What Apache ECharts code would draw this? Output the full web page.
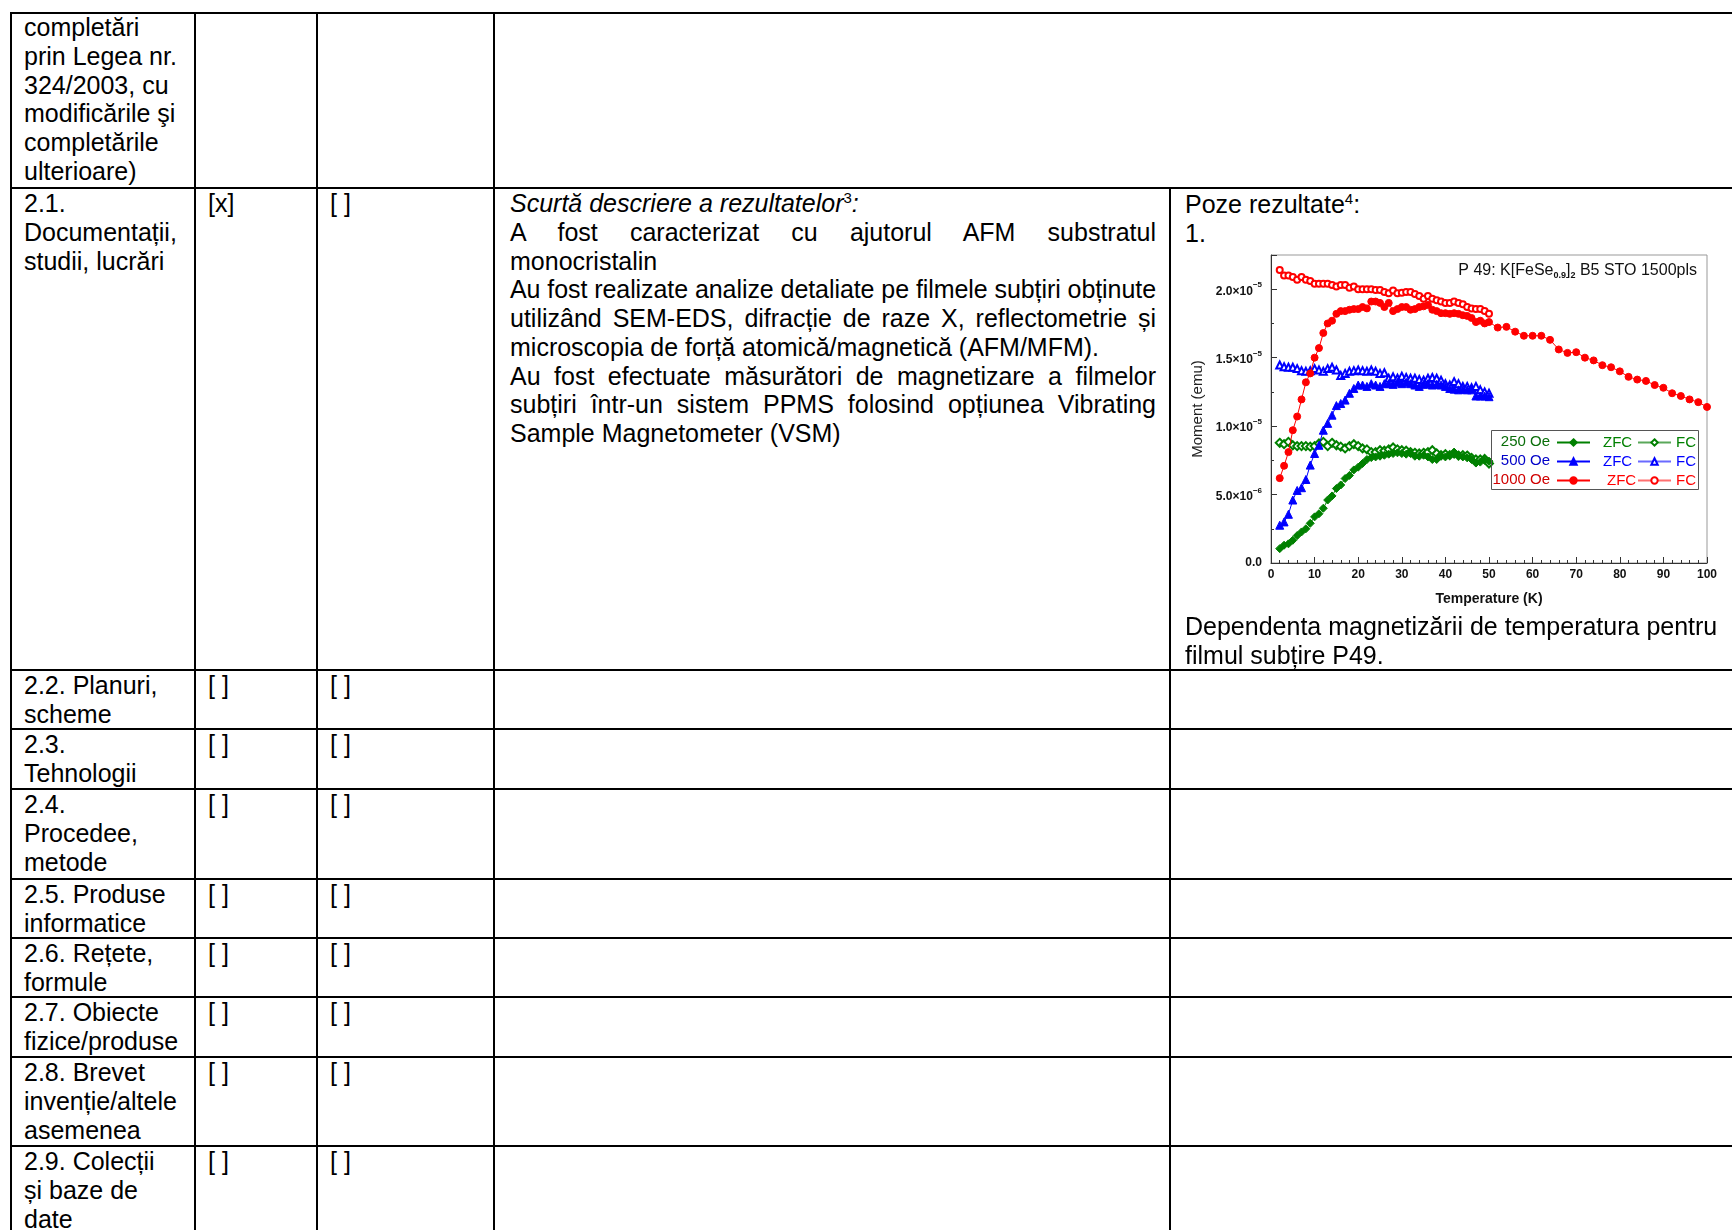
<!DOCTYPE html>
<html>
<head>
<meta charset="utf-8">
<script src="https://cdn.jsdelivr.net/npm/echarts@6/dist/echarts.min.js"></script>
<style>
html,body{margin:0;padding:0}
body{width:1732px;height:1230px;overflow:hidden;background:#fff;font-family:'Liberation Sans',Arial,sans-serif;font-size:25px;line-height:28.75px;color:#000;position:relative}
.h{position:absolute;left:10px;width:1722px;height:2px;background:#000}
.v{position:absolute;width:2px;background:#000}
.t{position:absolute;white-space:nowrap}
.j{text-align:justify;text-align-last:justify}
sup{font-size:15px;line-height:0;vertical-align:9px}
#chart{position:absolute;left:1180px;top:240px;width:552px;height:380px}
</style>
</head>
<body>
<div id="lines"></div>

<!-- column 1 -->
<div class="t" style="left:24px;top:13px">completări<br>prin Legea nr.<br>324/2003, cu<br>modificările şi<br>completările<br>ulterioare)</div>
<div class="t" style="left:24px;top:189px">2.1.<br>Documentații,<br>studii, lucrări</div>
<div class="t" style="left:24px;top:671px">2.2. Planuri,<br>scheme</div>
<div class="t" style="left:24px;top:730px">2.3.<br>Tehnologii</div>
<div class="t" style="left:24px;top:790px">2.4.<br>Procedee,<br>metode</div>
<div class="t" style="left:24px;top:880px">2.5. Produse<br>informatice</div>
<div class="t" style="left:24px;top:939px">2.6. Rețete,<br>formule</div>
<div class="t" style="left:24px;top:998px">2.7. Obiecte<br>fizice/produse</div>
<div class="t" style="left:24px;top:1058px">2.8. Brevet<br>invenție/altele<br>asemenea</div>
<div class="t" style="left:24px;top:1147px">2.9. Colecții<br>și baze de<br>date</div>

<!-- column 2 -->
<div class="t" style="left:208px;top:189px">[x]</div>
<div class="t" style="left:208px;top:671px">[ ]</div>
<div class="t" style="left:208px;top:730px">[ ]</div>
<div class="t" style="left:208px;top:790px">[ ]</div>
<div class="t" style="left:208px;top:880px">[ ]</div>
<div class="t" style="left:208px;top:939px">[ ]</div>
<div class="t" style="left:208px;top:998px">[ ]</div>
<div class="t" style="left:208px;top:1058px">[ ]</div>
<div class="t" style="left:208px;top:1147px">[ ]</div>

<!-- column 3 -->
<div class="t" style="left:330px;top:189px">[ ]</div>
<div class="t" style="left:330px;top:671px">[ ]</div>
<div class="t" style="left:330px;top:730px">[ ]</div>
<div class="t" style="left:330px;top:790px">[ ]</div>
<div class="t" style="left:330px;top:880px">[ ]</div>
<div class="t" style="left:330px;top:939px">[ ]</div>
<div class="t" style="left:330px;top:998px">[ ]</div>
<div class="t" style="left:330px;top:1058px">[ ]</div>
<div class="t" style="left:330px;top:1147px">[ ]</div>

<!-- column 4 -->
<div class="t" style="left:510px;top:189px;width:646px">
<div><i>Scurtă descriere a rezultatelor</i><sup>3</sup><i>:</i></div>
<div class="j">A fost caracterizat cu ajutorul AFM substratul</div>
<div>monocristalin</div>
<div class="j" style="letter-spacing:-0.07px">Au fost realizate analize detaliate pe filmele subțiri obținute</div>
<div class="j">utilizând SEM-EDS, difracție de raze X, reflectometrie și</div>
<div>microscopia de forță atomică/magnetică (AFM/MFM).</div>
<div class="j">Au fost efectuate măsurători de magnetizare a filmelor</div>
<div class="j">subțiri într-un sistem PPMS folosind opțiunea Vibrating</div>
<div>Sample Magnetometer (VSM)</div>
</div>

<!-- column 5 -->
<div class="t" style="left:1185px;top:190px">Poze rezultate<sup>4</sup>:<br>1.</div>
<div id="chart"></div>
<div class="t" style="left:1185px;top:612px">Dependenta magnetizării de temperatura pentru<br>filmul subțire P49.</div>

<script>
// ---- table layout ----
var rowLines = [13, 188, 670, 729, 789, 879, 938, 997, 1057, 1146];
var colLines = [11, 195, 317, 494];
var col5Line = 1170;
var host = document.getElementById('lines');
rowLines.forEach(function (y) {
  var d = document.createElement('div'); d.className = 'h'; d.style.top = (y - 1) + 'px'; host.appendChild(d);
});
colLines.forEach(function (x) {
  var d = document.createElement('div'); d.className = 'v';
  d.style.left = (x - 1) + 'px'; d.style.top = '12px'; d.style.height = '1220px'; host.appendChild(d);
});
(function () {
  var d = document.createElement('div'); d.className = 'v';
  d.style.left = (col5Line - 1) + 'px'; d.style.top = '187px'; d.style.height = '1045px'; host.appendChild(d);
})();

// ---- chart data (moment in units of 1e-5 emu) ----
var tempLow = [2,3,4,5,6,7,8,9,10,11,12,13,14,15,16,17,18,19,20,21,22,23,24,25,26,27,28,29,30,31,32,33,34,35,36,37,38,39,40,41,42,43,44,45,46,47,48,49,50];
var tempHigh = [52,54,56,58,60,62,64,66,68,70,72,74,76,78,80,82,84,86,88,90,92,94,96,98,100];

var zfc250 = [0.105,0.13,0.14,0.166,0.20,0.227,0.25,0.29,0.337,0.36,0.40,0.46,0.49,0.544,0.57,0.617,0.64,0.68,0.70,0.727,0.756,0.77,0.775,0.78,0.787,0.795,0.80,0.805,0.80,0.795,0.80,0.78,0.78,0.787,0.775,0.756,0.756,0.78,0.775,0.787,0.81,0.787,0.775,0.768,0.756,0.73,0.737,0.75,0.744];
var fc250 = [0.878,0.868,0.885,0.86,0.854,0.854,0.854,0.85,0.854,0.873,0.885,0.854,0.878,0.86,0.85,0.837,0.854,0.868,0.854,0.837,0.83,0.81,0.81,0.824,0.82,0.83,0.844,0.83,0.824,0.82,0.81,0.805,0.80,0.805,0.81,0.824,0.80,0.788,0.795,0.788,0.80,0.785,0.788,0.785,0.768,0.756,0.756,0.76,0.727];
var zfc500 = [0.276,0.30,0.356,0.46,0.53,0.55,0.61,0.715,0.80,0.86,0.97,1.02,1.08,1.15,1.165,1.19,1.24,1.275,1.30,1.30,1.29,1.31,1.30,1.29,1.31,1.31,1.305,1.32,1.31,1.32,1.31,1.30,1.29,1.305,1.31,1.30,1.305,1.30,1.29,1.275,1.27,1.265,1.27,1.265,1.265,1.22,1.22,1.22,1.215];
var fc500 = [1.446,1.434,1.43,1.43,1.42,1.405,1.40,1.405,1.42,1.41,1.40,1.42,1.43,1.41,1.37,1.385,1.40,1.405,1.41,1.405,1.40,1.41,1.40,1.385,1.39,1.35,1.36,1.35,1.365,1.355,1.35,1.35,1.34,1.335,1.35,1.355,1.35,1.335,1.31,1.30,1.325,1.31,1.29,1.29,1.28,1.29,1.265,1.25,1.24];
var zfc1000Low = [0.62,0.71,0.81,0.97,1.07,1.195,1.32,1.385,1.50,1.57,1.68,1.75,1.77,1.82,1.84,1.84,1.85,1.855,1.855,1.87,1.86,1.91,1.91,1.90,1.87,1.90,1.84,1.855,1.87,1.87,1.85,1.855,1.87,1.875,1.885,1.85,1.84,1.825,1.825,1.82,1.825,1.82,1.81,1.805,1.79,1.76,1.77,1.75,1.76];
var zfc1000High = [1.72,1.725,1.69,1.66,1.66,1.66,1.63,1.56,1.535,1.54,1.50,1.48,1.445,1.43,1.40,1.36,1.34,1.33,1.30,1.28,1.24,1.22,1.195,1.175,1.14];
var fc1000 = [2.14,2.10,2.10,2.09,2.07,2.09,2.07,2.06,2.04,2.04,2.04,2.04,2.03,2.02,2.03,2.03,2.01,2.02,2.0,2.0,2.0,2.0,1.995,1.995,1.98,1.97,1.99,1.97,1.975,1.98,1.98,1.965,1.95,1.93,1.95,1.93,1.92,1.91,1.90,1.90,1.91,1.90,1.89,1.87,1.86,1.855,1.855,1.84,1.82];

var yTickLabels = {'0': '0.0', '0.5': '{m|5.0×10}{e|−6}', '1': '{m|1.0×10}{e|−5}', '1.5': '{m|1.5×10}{e|−5}', '2': '{m|2.0×10}{e|−5}'};
var xTickLabels = ['0','10','20','30','40','50','60','70','80','90','100'];

function pairs(xs, ys) { return xs.map(function (x, i) { return [x, ys[i]]; }); }

var GREEN = '#008000', BLUE = '#0000ff', RED = '#ff0000';
var FF = "'Liberation Sans', Arial, sans-serif";
var FN = "'Liberation Sans Narrow', 'Liberation Sans', Arial, sans-serif";

function mk(name, data, color, symbol, size, lineColor, z) {
  return {
    name: name, type: 'line', data: data, symbol: symbol, symbolSize: size,
    showSymbol: true, showAllSymbol: true, z: z,
    itemStyle: { color: color, borderColor: color, borderWidth: 1 },
    lineStyle: { color: lineColor, width: 1 },
    emphasis: { disabled: true }
  };
}

var legendDisp = { 'ZFC250': 'ZFC', 'FC250': 'FC', 'ZFC500': 'ZFC', 'FC500': 'FC', 'ZFC1000': 'ZFC', 'FC1000': 'FC' };
function lg(name, left, top, color, padLeft) {
  return {
    data: [name], left: left, top: top, itemWidth: 33, itemHeight: 8, selectedMode: false,
    padding: 0, formatter: function (n) { return legendDisp[n]; },
    textStyle: { color: color, fontSize: 15, fontFamily: FF, padding: [0, 0, 0, padLeft] }
  };
}

var chart = echarts.init(document.getElementById('chart'));
chart.setOption({
  animation: false,
  title: {
    text: '{a|P 49: K[FeSe}{s|0.9}{a|]}{s|2}{a| B5 STO 1500pls}',
    right: 30, top: 16,
    textStyle: { fontWeight: 'normal', rich: {
      a: { fontSize: 16, fontFamily: FN, fontWeight: 'normal', color: '#111', lineHeight: 19 },
      s: { fontSize: 9, fontFamily: FN, fontWeight: 'bold', color: '#111', lineHeight: 19, verticalAlign: 'bottom' }
    } }
  },
  grid: { left: 91, top: 15, width: 436, height: 308, show: true, borderColor: '#999', borderWidth: 1, containLabel: false },
  xAxis: {
    type: 'value', min: 0, max: 100, interval: 10,
    name: 'Temperature (K)', nameLocation: 'middle', nameGap: 29,
    nameTextStyle: { fontSize: 14, fontWeight: 'bold', fontFamily: FN, color: '#111' },
    axisLine: { show: true, onZero: false, lineStyle: { color: '#333', width: 1 } },
    axisTick: { show: true, inside: true, length: 6, lineStyle: { color: '#333' } },
    minorTick: { show: true, splitNumber: 5, length: 3, lineStyle: { color: '#333' } },
    splitLine: { show: false },
    axisLabel: { fontSize: 12, fontWeight: 'bold', fontFamily: FN, color: '#111', margin: 6,
      formatter: function (v) { return xTickLabels[Math.round(v / 10)]; } }
  },
  yAxis: {
    type: 'value', min: 0, max: 2.25, interval: 0.5,
    name: 'Moment (emu)', nameLocation: 'middle', nameGap: 55,
    nameTextStyle: { fontSize: 15, fontFamily: FN, color: '#222' },
    axisLine: { show: true, onZero: false, lineStyle: { color: '#333', width: 1 } },
    axisTick: { show: true, inside: true, length: 6, lineStyle: { color: '#333' } },
    minorTick: { show: true, splitNumber: 2, length: 3, lineStyle: { color: '#333' } },
    splitLine: { show: false },
    axisLabel: {
      showMaxLabel: false, margin: 9, color: '#111',
      formatter: function (v) { var k = String(Math.round(v * 100) / 100); return yTickLabels[k] || ''; },
      fontSize: 12, fontWeight: 'bold', fontFamily: FN,
      rich: {
        m: { fontSize: 12, fontWeight: 'bold', fontFamily: FN, color: '#111', lineHeight: 16, verticalAlign: 'bottom' },
        e: { fontSize: 8, fontWeight: 'bold', fontFamily: FN, color: '#111', lineHeight: 16, verticalAlign: 'top' }
      }
    }
  },
  legend: [
    lg('ZFC250', 376, 195, GREEN, 8),
    lg('FC250', 457, 195, GREEN, 0),
    lg('ZFC500', 376, 214, BLUE, 8),
    lg('FC500', 457, 214, BLUE, 0),
    lg('ZFC1000', 376, 233, RED, 12),
    lg('FC1000', 457, 233, RED, 0)
  ],
  graphic: [
    { type: 'rect', left: 311, top: 190, shape: { width: 207, height: 59 }, style: { fill: 'rgba(255,255,255,0)', stroke: '#555', lineWidth: 1 }, z: 100 },
    { type: 'text', right: 1732 - 1180 - 370, top: 194, style: { text: '250 Oe', fill: '#0a6e0a', fontSize: 15, fontFamily: FF }, z: 100 },
    { type: 'text', right: 1732 - 1180 - 370, top: 213, style: { text: '500 Oe', fill: '#0000c8', fontSize: 15, fontFamily: FF }, z: 100 },
    { type: 'text', right: 1732 - 1180 - 370, top: 232, style: { text: '1000 Oe', fill: '#d00000', fontSize: 15, fontFamily: FF }, z: 100 }
  ],
  series: [
    mk('FC250', pairs(tempLow, fc250), GREEN, 'emptyDiamond', 8, '#5aa85a', 2),
    mk('ZFC250', pairs(tempLow, zfc250), GREEN, 'diamond', 8, GREEN, 3),
    mk('FC500', pairs(tempLow, fc500), BLUE, 'emptyTriangle', 7, '#6a6aff', 2),
    mk('ZFC500', pairs(tempLow, zfc500), BLUE, 'triangle', 8, BLUE, 3),
    mk('FC1000', pairs(tempLow, fc1000), RED, 'emptyCircle', 6, '#ff7070', 2),
    mk('ZFC1000', pairs(tempLow, zfc1000Low).concat(pairs(tempHigh, zfc1000High)), RED, 'circle', 7, RED, 3)
  ]
});
</script>
</body>
</html>
